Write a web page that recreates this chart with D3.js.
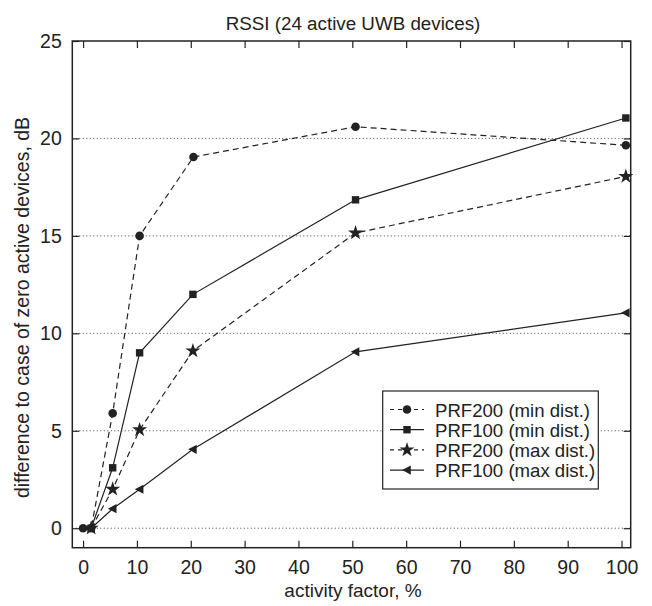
<!DOCTYPE html>
<html><head><meta charset="utf-8">
<script src="https://cdn.jsdelivr.net/npm/d3@7"></script>
<style>body{margin:0;background:#fff}svg text{font-family:"Liberation Sans",Arial,sans-serif;fill:#222}</style>
</head><body><div id="chart"></div>
<script>
const title = "RSSI (24 active UWB devices)";
const xLabel = "activity factor, %";
const yLabel = "difference to case of zero active devices, dB";
const xTicks = [0,10,20,30,40,50,60,70,80,90,100];
const yTicks = [0,5,10,15,20,25];
const gridValues = [0,5,10,15,20];

const xPrf200Min = [0, 1.5, 5.5, 10.5, 20.5, 50.6, 100.8];
const yPrf200Min = [0, 0, 5.9, 15.0, 19.05, 20.6, 19.65];
const xOther = [1.5, 5.5, 10.5, 20.4, 50.6, 100.8];
const yPrf100Min = [0, 3.1, 9.0, 12.0, 16.85, 21.05];
const yPrf200Max = [0, 2.0, 5.05, 9.1, 15.15, 18.05];
const yPrf100Max = [0, 1.0, 2.0, 4.05, 9.05, 11.05];
const seriesNames = ["PRF200 (min dist.)","PRF100 (min dist.)","PRF200 (max dist.)","PRF100 (max dist.)"];

(function(){
const W = 652, H = 606;
const pL = 72.3, pR = 630.7, pT = 41, pB = 547.7;
const svg = d3.select("#chart").append("svg").attr("width", W).attr("height", H);
const x = d3.scaleLinear().domain([-2, 101.7]).range([pL, pR]);
const y = d3.scaleLinear().domain([-1, 25]).range([pB, pT]);
const ink = "#222";
const fs = 19.5;

svg.append("g").selectAll("line").data(gridValues).join("line")
  .attr("x1", pL).attr("x2", pR).attr("y1", d => y(d)).attr("y2", d => y(d))
  .attr("stroke", "#444").attr("stroke-width", 1).attr("stroke-dasharray", "1,2.5");

const tl = 7;
svg.append("g").attr("transform", `translate(0,${pB})`)
  .call(d3.axisBottom(x).tickValues(xTicks).tickSize(-tl).tickPadding(12.5).tickFormat(d3.format("d")))
  .call(g => { g.select(".domain").remove(); g.selectAll("line").attr("stroke", ink).attr("stroke-width", 1.2);
    g.selectAll("text").attr("font-size", fs).attr("fill", ink).attr("font-family", "Liberation Sans, Arial"); });
svg.append("g").attr("transform", `translate(0,${pT})`)
  .call(d3.axisTop(x).tickValues(xTicks).tickSize(-tl).tickFormat(""))
  .call(g => { g.select(".domain").remove(); g.selectAll("line").attr("stroke", ink).attr("stroke-width", 1.2); });
svg.append("g").attr("transform", `translate(${pL},0)`)
  .call(d3.axisLeft(y).tickValues(yTicks).tickSize(-tl).tickPadding(10.5).tickFormat(d3.format("d")))
  .call(g => { g.select(".domain").remove(); g.selectAll("line").attr("stroke", ink).attr("stroke-width", 1.2);
    g.selectAll("text").attr("font-size", fs).attr("fill", ink).attr("font-family", "Liberation Sans, Arial"); });
svg.append("g").attr("transform", `translate(${pR},0)`)
  .call(d3.axisRight(y).tickValues(yTicks).tickSize(-tl).tickFormat(""))
  .call(g => { g.select(".domain").remove(); g.selectAll("line").attr("stroke", ink).attr("stroke-width", 1.2); });

svg.append("rect").attr("x", pL).attr("y", pT).attr("width", pR - pL).attr("height", pB - pT)
  .attr("fill", "none").attr("stroke", ink).attr("stroke-width", 1.5);

const star = d3.symbol().type(d3.symbolStar).size(70);
const markers = {
  circle: g => g.append("circle").attr("r", 4.3),
  square: g => g.append("rect").attr("x", -3.7).attr("y", -3.7).attr("width", 7.4).attr("height", 7.4),
  star: g => g.append("path").attr("d", star()),
  tri: g => g.append("path").attr("d", "M-4.8,0 L3.8,-4.6 L3.8,4.6 Z")
};
const series = [
  {name: seriesNames[3], xs: xOther, ys: yPrf100Max, dash: null, m: "tri"},
  {name: seriesNames[2], xs: xOther, ys: yPrf200Max, dash: "6,4", m: "star"},
  {name: seriesNames[1], xs: xOther, ys: yPrf100Min, dash: null, m: "square"},
  {name: seriesNames[0], xs: xPrf200Min, ys: yPrf200Min, dash: "6,4", m: "circle"}
];
const line = d3.line().x(d => x(d[0])).y(d => y(d[1]));
series.forEach(s => {
  const pts = s.xs.map((v, i) => [v, s.ys[i]]);
  svg.append("path").datum(pts).attr("d", line).attr("fill", "none").attr("stroke", ink)
    .attr("stroke-width", 1.2).attr("stroke-dasharray", s.dash);
  pts.forEach(p => {
    const g = svg.append("g").attr("transform", `translate(${x(p[0])},${y(p[1])})`).attr("fill", ink);
    markers[s.m](g);
  });
});

const lg = svg.append("g");
lg.append("rect").attr("x", 382.7).attr("y", 391).attr("width", 215.6).attr("height", 98)
  .attr("fill", "#fff").attr("stroke", ink).attr("stroke-width", 1.2);
const legendOrder = [series[3], series[2], series[1], series[0]];
legendOrder.forEach((s, i) => {
  const cy = 409.5 + i * 20.2;
  lg.append("line").attr("x1", 390).attr("x2", 424).attr("y1", cy).attr("y2", cy)
    .attr("stroke", ink).attr("stroke-width", 1.2).attr("stroke-dasharray", s.dash ? "4,4" : null);
  const g = lg.append("g").attr("transform", `translate(407,${cy})`).attr("fill", ink);
  markers[s.m](g);
  lg.append("text").attr("x", 435).attr("y", cy + 7).attr("font-size", 18.6).text(s.name);
});

svg.append("text").attr("x", 353).attr("y", 30).attr("text-anchor", "middle").attr("font-size", 18.8).text(title);
svg.append("text").attr("x", 353).attr("y", 597).attr("text-anchor", "middle").attr("font-size", 19).text(xLabel);
svg.append("text").attr("transform", `translate(28.5,307.5) rotate(-90)`).attr("text-anchor", "middle")
  .attr("font-size", 19.5).text(yLabel);
})();
</script></body></html>
